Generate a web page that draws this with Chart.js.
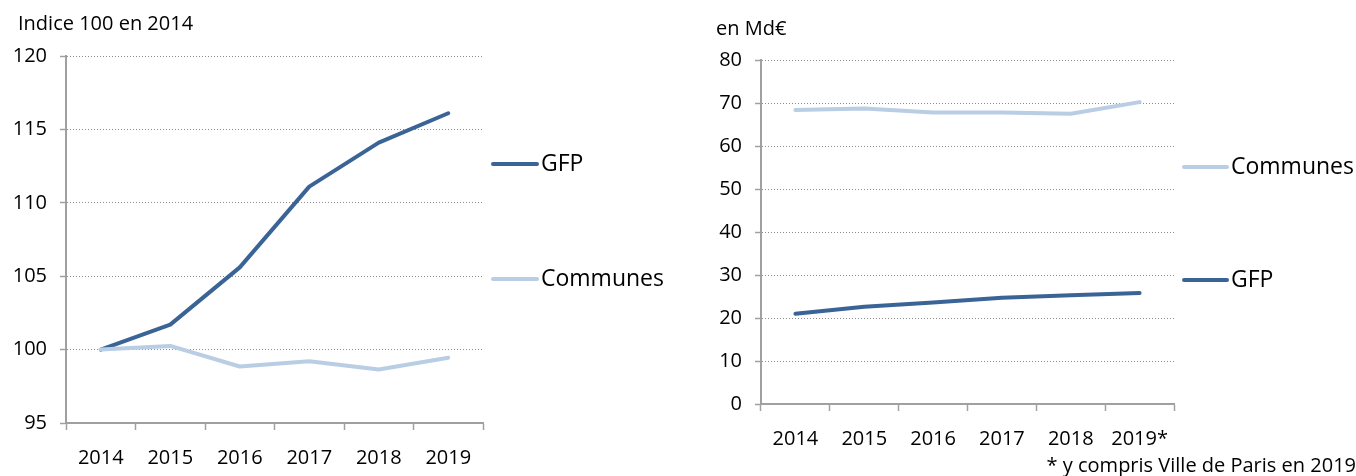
<!DOCTYPE html>
<html>
<head>
<meta charset="utf-8">
<script src="https://cdn.jsdelivr.net/npm/chart.js@4/dist/chart.umd.min.js"></script>
<style>
  html, body { margin: 0; padding: 0; background: #ffffff; }
  body { width: 1356px; height: 476px; position: relative; overflow: hidden; }
  .box { position: absolute; top: 0; height: 476px; }
  #boxL { left: 0; width: 690px; }
  #boxR { left: 690px; width: 666px; }
</style>
</head>
<body>
<div class="box" id="boxL"><canvas id="chartL"></canvas></div>
<div class="box" id="boxR"><canvas id="chartR"></canvas></div>
<script>
// ---- Data ----
const yearsLeft = ['2014', '2015', '2016', '2017', '2018', '2019'];
const gfpIndex = [100, 101.7, 105.6, 111.1, 114.1, 116.1];
const communesIndex = [100, 100.25, 98.85, 99.2, 98.65, 99.45];
const leftTicks = [95, 100, 105, 110, 115, 120];

const yearsRight = ['2014', '2015', '2016', '2017', '2018', '2019*'];
const communesMd = [68.4, 68.7, 67.8, 67.8, 67.5, 70.2];
const gfpMd = [21.0, 22.6, 23.6, 24.7, 25.3, 25.8];
const rightTicks = [0, 10, 20, 30, 40, 50, 60, 70, 80];

const leftTitle = 'Indice 100 en 2014';
const rightTitle = 'en Md€';
const footnote = '* y compris Ville de Paris en 2019';
const labelGFP = 'GFP';
const labelCommunes = 'Communes';

// ---- Styles ----
const DARK = '#3b6496';
const LIGHT = '#b9cde5';
const AXIS = '#a0a0a0';
const GRID = '#8c8c8c';
const FONT = "'Open Sans', 'Noto Sans', sans-serif";

function lineDS(label, data, color, order) {
  return {
    label, data,
    borderColor: color, backgroundColor: color,
    borderWidth: 4, pointRadius: 0, pointHoverRadius: 0,
    tension: 0, borderCapStyle: 'round', borderJoinStyle: 'round',
    fill: false, order
  };
}

const textPlugin = {
  id: 'texts',
  afterDraw(chart, args, opts) {
    const ctx = chart.ctx;
    ctx.save();
    (opts.legend || []).forEach(it => {
      ctx.beginPath();
      ctx.strokeStyle = it.color;
      ctx.lineWidth = 4;
      ctx.lineCap = 'round';
      ctx.moveTo(it.x1, it.y);
      ctx.lineTo(it.x2, it.y);
      ctx.stroke();
      ctx.fillStyle = '#000';
      ctx.font = '23px ' + FONT;
      ctx.textAlign = 'left';
      ctx.textBaseline = 'middle';
      ctx.fillText(it.text, it.tx, it.y);
    });
    (opts.texts || []).forEach(t => {
      ctx.fillStyle = '#000';
      ctx.font = t.size + 'px ' + FONT;
      ctx.textAlign = t.align;
      ctx.textBaseline = 'middle';
      ctx.fillText(t.text, t.x, t.y);
    });
    ctx.restore();
  }
};

function makeOptions(cfg) {
  return {
    responsive: true,
    maintainAspectRatio: false,
    animation: false,
    events: [],
    layout: { padding: cfg.padding },
    plugins: {
      legend: { display: false },
      tooltip: { enabled: false },
      texts: { legend: cfg.legend, texts: cfg.texts }
    },
    scales: {
      x: {
        type: 'category',
        offset: true,
        grid: {
          offset: true, drawOnChartArea: false, drawTicks: true,
          tickLength: 7, tickColor: AXIS, tickWidth: 1.5
        },
        border: { display: true, color: AXIS, width: 2 },
        ticks: { color: '#000', font: { family: FONT, size: 20 }, padding: cfg.xPad, maxRotation: 0, autoSkip: false },
        afterFit(scale) { scale.height = cfg.xHeight; }
      },
      y: {
        min: cfg.min, max: cfg.max,
        afterBuildTicks(scale) { scale.ticks = cfg.ticks.map(v => ({ value: v })); },
        grid: {
          color: GRID, lineWidth: 1, drawTicks: true, tickLength: 6,
          tickColor: AXIS, tickWidth: 1.5
        },
        border: { display: true, color: AXIS, width: 2, dash: [1, 2] },
        ticks: { color: '#000', font: { family: FONT, size: 20 }, padding: 13 },
        afterFit(scale) { scale.width = cfg.yWidth; }
      }
    }
  };
}

new Chart(document.getElementById('chartL'), {
  type: 'line',
  data: {
    labels: yearsLeft,
    datasets: [
      lineDS(labelGFP, gfpIndex, DARK, 2),
      lineDS(labelCommunes, communesIndex, LIGHT, 1)
    ]
  },
  options: makeOptions({
    padding: { left: 0, right: 207, top: 56, bottom: 0 },
    yWidth: 66, xHeight: 53, xPad: 16,
    min: 95, max: 120, ticks: leftTicks,
    legend: [
      { text: labelGFP, color: DARK, x1: 493, x2: 537, tx: 541, y: 164 },
      { text: labelCommunes, color: LIGHT, x1: 493, x2: 537, tx: 541, y: 279 }
    ],
    texts: [
      { text: leftTitle, x: 18, y: 24, size: 20, align: 'left' }
    ]
  }),
  plugins: [textPlugin]
});

new Chart(document.getElementById('chartR'), {
  type: 'line',
  data: {
    labels: yearsRight,
    datasets: [
      lineDS(labelCommunes, communesMd, LIGHT, 1),
      lineDS(labelGFP, gfpMd, DARK, 2)
    ]
  },
  options: makeOptions({
    padding: { left: 0, right: 182, top: 60, bottom: 0 },
    yWidth: 71, xHeight: 72, xPad: 16,
    min: 0, max: 80, ticks: rightTicks,
    legend: [
      { text: labelCommunes, color: LIGHT, x1: 494, x2: 537, tx: 541, y: 167 },
      { text: labelGFP, color: DARK, x1: 494, x2: 537, tx: 541, y: 280 }
    ],
    texts: [
      { text: rightTitle, x: 26, y: 29, size: 20, align: 'left' },
      { text: footnote, x: 666, y: 466, size: 20, align: 'right' }
    ]
  }),
  plugins: [textPlugin]
});
</script>
</body>
</html>
